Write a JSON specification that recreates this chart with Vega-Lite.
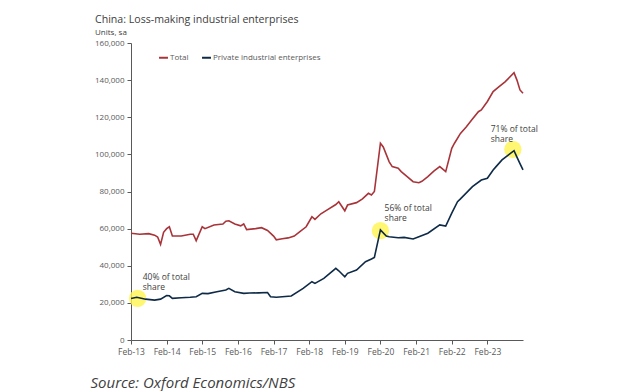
{
  "$schema": "https://vega.github.io/schema/vega-lite/v6.json",
  "width": 392,
  "height": 297,
  "autosize": {"type": "none"},
  "padding": {"left": 131, "top": 43, "right": 117, "bottom": 51},
  "background": "white",
  "config": {
    "font": "Open Sans",
    "view": {"stroke": null},
    "axis": {"grid": false}
  },
  "title": {
    "text": "China: Loss-making industrial enterprises",
    "subtitle": "Units, sa",
    "anchor": "start",
    "frame": "group",
    "dx": -36,
    "fontSize": 10.6,
    "fontWeight": "normal",
    "color": "#404040",
    "subtitleFontSize": 8,
    "subtitleColor": "#404040",
    "subtitlePadding": 3,
    "offset": 2
  },
  "datasets": {
    "series": [
      {"date": "2013-02-01", "series": "Total", "value": 57500},
      {"date": "2013-05-01", "series": "Total", "value": 57000},
      {"date": "2013-08-01", "series": "Total", "value": 57300},
      {"date": "2013-10-01", "series": "Total", "value": 56500},
      {"date": "2013-11-01", "series": "Total", "value": 55500},
      {"date": "2013-12-01", "series": "Total", "value": 51500},
      {"date": "2014-01-01", "series": "Total", "value": 58000},
      {"date": "2014-02-01", "series": "Total", "value": 60000},
      {"date": "2014-03-01", "series": "Total", "value": 61000},
      {"date": "2014-04-01", "series": "Total", "value": 56000},
      {"date": "2014-07-01", "series": "Total", "value": 56000},
      {"date": "2014-10-01", "series": "Total", "value": 57000},
      {"date": "2014-11-01", "series": "Total", "value": 57000},
      {"date": "2014-12-01", "series": "Total", "value": 53500},
      {"date": "2015-02-01", "series": "Total", "value": 61000},
      {"date": "2015-03-01", "series": "Total", "value": 60000},
      {"date": "2015-06-01", "series": "Total", "value": 62000},
      {"date": "2015-09-01", "series": "Total", "value": 62500},
      {"date": "2015-10-01", "series": "Total", "value": 64000},
      {"date": "2015-11-01", "series": "Total", "value": 64200},
      {"date": "2016-01-01", "series": "Total", "value": 62500},
      {"date": "2016-03-01", "series": "Total", "value": 61500},
      {"date": "2016-04-01", "series": "Total", "value": 62500},
      {"date": "2016-05-01", "series": "Total", "value": 59500},
      {"date": "2016-08-01", "series": "Total", "value": 60000},
      {"date": "2016-10-01", "series": "Total", "value": 60500},
      {"date": "2016-12-01", "series": "Total", "value": 59000},
      {"date": "2017-02-01", "series": "Total", "value": 56000},
      {"date": "2017-03-01", "series": "Total", "value": 54000},
      {"date": "2017-05-01", "series": "Total", "value": 54500},
      {"date": "2017-07-01", "series": "Total", "value": 55000},
      {"date": "2017-09-01", "series": "Total", "value": 56000},
      {"date": "2017-11-01", "series": "Total", "value": 58500},
      {"date": "2018-01-01", "series": "Total", "value": 61000},
      {"date": "2018-03-01", "series": "Total", "value": 66400},
      {"date": "2018-04-01", "series": "Total", "value": 65000},
      {"date": "2018-06-01", "series": "Total", "value": 68000},
      {"date": "2018-08-01", "series": "Total", "value": 70000},
      {"date": "2018-11-01", "series": "Total", "value": 73000},
      {"date": "2018-12-01", "series": "Total", "value": 74500},
      {"date": "2019-02-01", "series": "Total", "value": 69600},
      {"date": "2019-03-01", "series": "Total", "value": 72700},
      {"date": "2019-06-01", "series": "Total", "value": 74000},
      {"date": "2019-08-01", "series": "Total", "value": 76000},
      {"date": "2019-10-01", "series": "Total", "value": 79000},
      {"date": "2019-11-01", "series": "Total", "value": 78100},
      {"date": "2019-12-01", "series": "Total", "value": 80000},
      {"date": "2020-02-01", "series": "Total", "value": 106000},
      {"date": "2020-03-01", "series": "Total", "value": 104000},
      {"date": "2020-05-01", "series": "Total", "value": 96000},
      {"date": "2020-06-01", "series": "Total", "value": 93400},
      {"date": "2020-08-01", "series": "Total", "value": 92500},
      {"date": "2020-09-01", "series": "Total", "value": 90700},
      {"date": "2020-11-01", "series": "Total", "value": 88000},
      {"date": "2021-01-01", "series": "Total", "value": 85300},
      {"date": "2021-03-01", "series": "Total", "value": 84700},
      {"date": "2021-04-01", "series": "Total", "value": 85500},
      {"date": "2021-06-01", "series": "Total", "value": 88000},
      {"date": "2021-08-01", "series": "Total", "value": 91000},
      {"date": "2021-10-01", "series": "Total", "value": 93400},
      {"date": "2021-11-01", "series": "Total", "value": 92000},
      {"date": "2021-12-01", "series": "Total", "value": 90700},
      {"date": "2022-02-01", "series": "Total", "value": 103300},
      {"date": "2022-03-01", "series": "Total", "value": 106000},
      {"date": "2022-05-01", "series": "Total", "value": 111300},
      {"date": "2022-07-01", "series": "Total", "value": 114900},
      {"date": "2022-09-01", "series": "Total", "value": 119000},
      {"date": "2022-11-01", "series": "Total", "value": 123000},
      {"date": "2022-12-01", "series": "Total", "value": 123900},
      {"date": "2023-02-01", "series": "Total", "value": 128500},
      {"date": "2023-04-01", "series": "Total", "value": 133800},
      {"date": "2023-06-01", "series": "Total", "value": 136500},
      {"date": "2023-08-01", "series": "Total", "value": 139100},
      {"date": "2023-11-01", "series": "Total", "value": 144000},
      {"date": "2023-12-01", "series": "Total", "value": 140000},
      {"date": "2024-01-01", "series": "Total", "value": 134700},
      {"date": "2024-02-01", "series": "Total", "value": 132900},
      {"date": "2013-02-01", "series": "Private industrial enterprises", "value": 22400},
      {"date": "2013-04-01", "series": "Private industrial enterprises", "value": 23000},
      {"date": "2013-07-01", "series": "Private industrial enterprises", "value": 22000},
      {"date": "2013-10-01", "series": "Private industrial enterprises", "value": 21500},
      {"date": "2013-12-01", "series": "Private industrial enterprises", "value": 22000},
      {"date": "2014-02-01", "series": "Private industrial enterprises", "value": 23900},
      {"date": "2014-03-01", "series": "Private industrial enterprises", "value": 23800},
      {"date": "2014-04-01", "series": "Private industrial enterprises", "value": 22400},
      {"date": "2014-07-01", "series": "Private industrial enterprises", "value": 22800},
      {"date": "2014-10-01", "series": "Private industrial enterprises", "value": 23000},
      {"date": "2014-12-01", "series": "Private industrial enterprises", "value": 23300},
      {"date": "2015-02-01", "series": "Private industrial enterprises", "value": 25100},
      {"date": "2015-04-01", "series": "Private industrial enterprises", "value": 25000},
      {"date": "2015-07-01", "series": "Private industrial enterprises", "value": 26000},
      {"date": "2015-10-01", "series": "Private industrial enterprises", "value": 26900},
      {"date": "2015-11-01", "series": "Private industrial enterprises", "value": 27800},
      {"date": "2016-01-01", "series": "Private industrial enterprises", "value": 26000},
      {"date": "2016-04-01", "series": "Private industrial enterprises", "value": 25100},
      {"date": "2016-06-01", "series": "Private industrial enterprises", "value": 25300},
      {"date": "2016-09-01", "series": "Private industrial enterprises", "value": 25400},
      {"date": "2016-12-01", "series": "Private industrial enterprises", "value": 25600},
      {"date": "2017-01-01", "series": "Private industrial enterprises", "value": 23300},
      {"date": "2017-03-01", "series": "Private industrial enterprises", "value": 23000},
      {"date": "2017-08-01", "series": "Private industrial enterprises", "value": 23700},
      {"date": "2017-12-01", "series": "Private industrial enterprises", "value": 27800},
      {"date": "2018-03-01", "series": "Private industrial enterprises", "value": 31400},
      {"date": "2018-04-01", "series": "Private industrial enterprises", "value": 30500},
      {"date": "2018-07-01", "series": "Private industrial enterprises", "value": 33200},
      {"date": "2018-11-01", "series": "Private industrial enterprises", "value": 38600},
      {"date": "2018-12-01", "series": "Private industrial enterprises", "value": 37300},
      {"date": "2019-02-01", "series": "Private industrial enterprises", "value": 34100},
      {"date": "2019-03-01", "series": "Private industrial enterprises", "value": 35900},
      {"date": "2019-06-01", "series": "Private industrial enterprises", "value": 37700},
      {"date": "2019-09-01", "series": "Private industrial enterprises", "value": 42200},
      {"date": "2019-11-01", "series": "Private industrial enterprises", "value": 43600},
      {"date": "2019-12-01", "series": "Private industrial enterprises", "value": 44500},
      {"date": "2020-02-01", "series": "Private industrial enterprises", "value": 59300},
      {"date": "2020-04-01", "series": "Private industrial enterprises", "value": 56000},
      {"date": "2020-05-01", "series": "Private industrial enterprises", "value": 55600},
      {"date": "2020-08-01", "series": "Private industrial enterprises", "value": 55100},
      {"date": "2020-10-01", "series": "Private industrial enterprises", "value": 55300},
      {"date": "2021-01-01", "series": "Private industrial enterprises", "value": 54400},
      {"date": "2021-03-01", "series": "Private industrial enterprises", "value": 55600},
      {"date": "2021-06-01", "series": "Private industrial enterprises", "value": 57500},
      {"date": "2021-10-01", "series": "Private industrial enterprises", "value": 62000},
      {"date": "2021-12-01", "series": "Private industrial enterprises", "value": 61400},
      {"date": "2022-02-01", "series": "Private industrial enterprises", "value": 68300},
      {"date": "2022-04-01", "series": "Private industrial enterprises", "value": 74500},
      {"date": "2022-05-01", "series": "Private industrial enterprises", "value": 76000},
      {"date": "2022-09-01", "series": "Private industrial enterprises", "value": 82600},
      {"date": "2022-12-01", "series": "Private industrial enterprises", "value": 86200},
      {"date": "2023-02-01", "series": "Private industrial enterprises", "value": 87100},
      {"date": "2023-04-01", "series": "Private industrial enterprises", "value": 91600},
      {"date": "2023-05-01", "series": "Private industrial enterprises", "value": 93400},
      {"date": "2023-07-01", "series": "Private industrial enterprises", "value": 97000},
      {"date": "2023-11-01", "series": "Private industrial enterprises", "value": 102000},
      {"date": "2023-12-01", "series": "Private industrial enterprises", "value": 98500},
      {"date": "2024-01-01", "series": "Private industrial enterprises", "value": 95000},
      {"date": "2024-02-01", "series": "Private industrial enterprises", "value": 91600}
    ],
    "highlights": [
      {"date": "2013-04-10", "value": 22400},
      {"date": "2020-02-01", "value": 58900},
      {"date": "2023-10-20", "value": 102700}
    ],
    "notes": [
      {"date": "2013-06-01", "value": 36100, "label": "40% of total\nshare"},
      {"date": "2020-03-15", "value": 73000, "label": "56% of total\nshare"},
      {"date": "2023-03-07", "value": 115600, "label": "71% of total\nshare"}
    ]
  },
  "encoding": {
    "x": {
      "field": "date",
      "type": "temporal",
      "scale": {"type": "utc", "domain": [{"year": 2013, "month": 2, "date": 1, "utc": true}, {"year": 2024, "month": 2, "date": 1, "utc": true}]},
      "axis": {
        "title": "Source: Oxford Economics/NBS",
        "titleFontStyle": "italic",
        "titleFontWeight": "normal",
        "titleFontSize": 15,
        "titleColor": "#404040",
        "titleAlign": "left",
        "titleAnchor": null,
        "titleBaseline": "alphabetic",
        "titleX": -41,
        "titleY": 47,
        "labelExpr": "utcFormat(datum.value, '%b-%y')",
        "values": [
          {"year": 2013, "month": 2, "date": 1, "utc": true},
          {"year": 2014, "month": 2, "date": 1, "utc": true},
          {"year": 2015, "month": 2, "date": 1, "utc": true},
          {"year": 2016, "month": 2, "date": 1, "utc": true},
          {"year": 2017, "month": 2, "date": 1, "utc": true},
          {"year": 2018, "month": 2, "date": 1, "utc": true},
          {"year": 2019, "month": 2, "date": 1, "utc": true},
          {"year": 2020, "month": 2, "date": 1, "utc": true},
          {"year": 2021, "month": 2, "date": 1, "utc": true},
          {"year": 2022, "month": 2, "date": 1, "utc": true},
          {"year": 2023, "month": 2, "date": 1, "utc": true}
        ],
        "labelOverlap": false,
        "labelFontSize": 8.5,
        "labelColor": "#595959",
        "labelPadding": 3,
        "tickSize": 4,
        "tickColor": "#595959",
        "domainColor": "#595959",
        "labelFlush": false
      }
    },
    "y": {
      "field": "value",
      "type": "quantitative",
      "scale": {"domain": [0, 160000], "nice": false},
      "axis": {
        "title": null,
        "values": [0, 20000, 40000, 60000, 80000, 100000, 120000, 140000, 160000],
        "format": ",d",
        "labelOverlap": false,
        "labelFontSize": 8,
        "labelColor": "#595959",
        "labelPadding": 3,
        "tickSize": 4,
        "tickColor": "#595959",
        "domainColor": "#595959"
      }
    }
  },
  "layer": [
    {
      "data": {"name": "highlights"},
      "mark": {"type": "point", "filled": true, "color": "#FFF44F", "opacity": 0.8, "size": 300, "strokeWidth": 0}
    },
    {
      "data": {"name": "series"},
      "mark": {"type": "line", "strokeWidth": 1.6},
      "encoding": {
        "color": {
          "field": "series",
          "type": "nominal",
          "scale": {"domain": ["Total", "Private industrial enterprises"], "range": ["#A8343A", "#0E2A47"]},
          "legend": {
            "title": null,
            "orient": "none",
            "legendX": 27,
            "legendY": 9,
            "direction": "horizontal",
            "symbolType": "stroke",
            "symbolSize": 80,
            "symbolStrokeWidth": 2,
            "labelFontSize": 8,
            "labelColor": "#595959",
            "labelOffset": 1,
            "columnPadding": 9
          }
        }
      }
    },
    {
      "data": {"name": "notes"},
      "mark": {"type": "text", "align": "left", "baseline": "top", "lineBreak": "\n", "lineHeight": 10, "fontSize": 8.5, "color": "#404040"},
      "encoding": {
        "text": {"field": "label"}
      }
    }
  ]
}
